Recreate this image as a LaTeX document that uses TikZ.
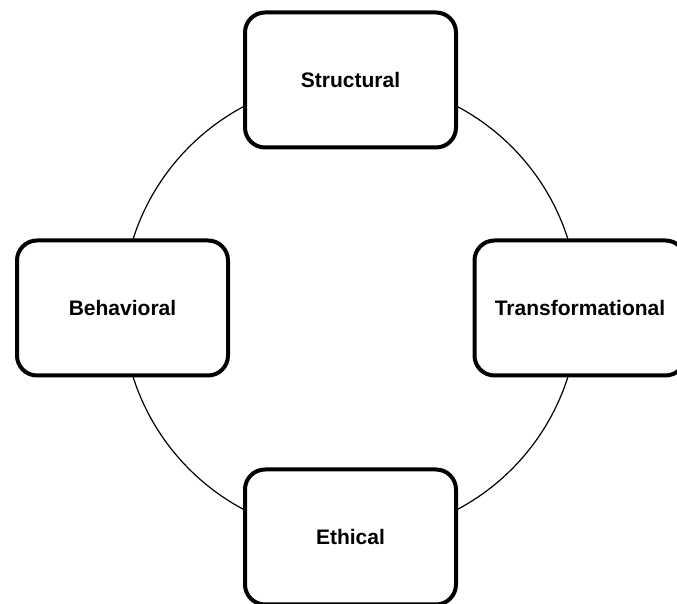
\documentclass[tikz,border=0pt]{standalone}
\usepackage{fontspec}
\setmainfont{Liberation Sans}
\usepackage{tikz}

\tikzset{
    stage/.style={draw, line width=4pt, rounded corners=20pt, fill=white,
        minimum width=211pt, minimum height=135pt, inner sep=0pt,
        font=\fontsize{21}{25}\selectfont\bfseries},
}

\begin{document}
\begin{tikzpicture}[x=1pt, y=1pt]
        \useasboundingbox (0,0) rectangle (677,604);

        \coordinate (O) at (350.5,296);
        \draw[line width=1.2pt] (O) circle (228pt);

        \node[stage] (Str) at (350.5,524) {Structural};
        \node[stage] (Beh) at (122.5,296) {Behavioral};
        \node[stage] (Tra) at (580,296) {Transformational};
        \node[stage] (Eth) at (350.5,67) {Ethical};
    \end{tikzpicture}
\end{document}
